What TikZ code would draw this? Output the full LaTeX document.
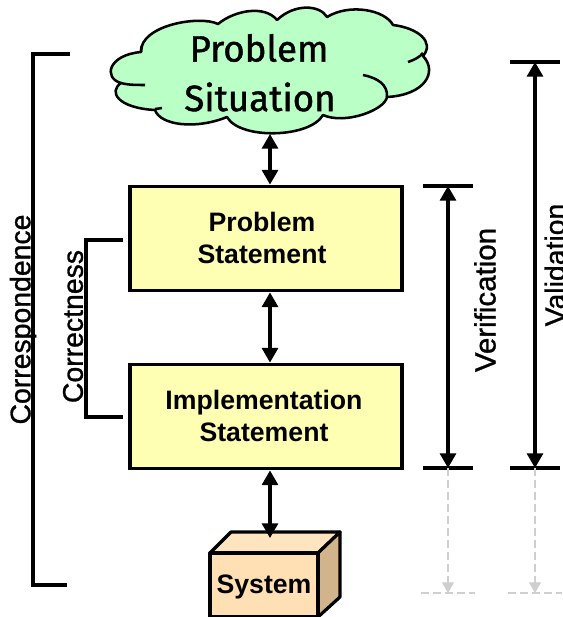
\documentclass[tikz,border=0pt]{standalone}
\usepackage{fontspec}
\setmainfont{Liberation Sans}
\newfontfamily\cloudfont[FakeBold=1.2]{Fira Sans}
\newfontfamily\sidefont[FakeBold=1]{Liberation Sans}
\usetikzlibrary{calc,positioning,arrows.meta}
\definecolor{cloudgreen}{HTML}{B9FFC6}
\definecolor{stmtyellow}{HTML}{FFFFB4}
\definecolor{boxfront}{HTML}{FFE0B4}
\definecolor{boxside}{HTML}{D2B48C}
\definecolor{ghost}{HTML}{CFCFCF}
\begin{document}
\begin{tikzpicture}[x=.75pt,y=-.75pt,
 stmt/.style={draw, line width=2.4pt, fill=stmtyellow, minimum width=204pt, minimum height=78.5pt, inner sep=0pt},
 stmttxt/.style={inner sep=0pt, align=center, font=\fontsize{20}{24}\selectfont\bfseries},
 lbl/.style={rotate=90, inner sep=0pt, font=\fontsize{21.3}{24}\sidefont},
 cloudlbl/.style={inner sep=0pt, font=\fontsize{27.5}{30}\cloudfont},
 ln/.style={line width=2.3pt},
 dbl/.style={line width=2.3pt, {Triangle[length=11pt,width=12pt]}-{Triangle[length=11pt,width=12pt]}},
 gho/.style={ghost, line width=.8pt, dashed, dash pattern=on 6pt off 3pt},
 boxln/.style={draw, line width=2.4pt, line join=round}]
\useasboundingbox (0,0) rectangle (562,617);
% cloud
\draw[line width=1.9pt, fill=cloudgreen, line join=round]
 (141,52) .. controls (140,25) and (200,15) .. (218,24)
 .. controls (235,10) and (265,5) .. (277,20)
 .. controls (295,3) and (320,5) .. (327,17)
 .. controls (350,3) and (385,10) .. (393,25)
 .. controls (418,28) and (435,42) .. (423,56)
 .. controls (438,72) and (425,95) .. (387,97)
 .. controls (385,110) and (345,125) .. (323,115)
 .. controls (310,138) and (240,140) .. (227,117)
 .. controls (195,130) and (160,125) .. (155,110)
 .. controls (118,108) and (108,92) .. (121,83)
 .. controls (103,78) and (108,55) .. (141,52) -- cycle;
\draw[line width=1.9pt] (423,53) .. controls (420,57) and (414,60) .. (408,62);
\draw[line width=1.9pt] (363,75) .. controls (378,78) and (388,85) .. (387,97);
\draw[line width=1.9pt] (155,109) .. controls (158,109) and (160,108) .. (162,108);
\draw[line width=1.9pt] (121,83) .. controls (128,85) and (137,85) .. (145,85);
\draw[line width=1.9pt] (141,52) .. controls (141,50) and (141,48) .. (142,46);
\node[cloudlbl] (problemtxt) at (259,48) {Problem};
\node[cloudlbl] (situation) at (260,97) {Situation};
\coordinate (cloudbot) at (270,134);
% statements
\node[stmt] (problem) at (266,238.5) {};
\node[stmt] (impl) at (266,416.5) {};
\node[stmttxt] (problemlbl) at (262,238) {Problem\\Statement};
\node[stmttxt] (impllbl) at (264,416) {Implementation\\Statement};
% system box
\coordinate (sysa) at (210,553); \coordinate (sysb) at (318,553);
\coordinate (sysc) at (340,532); \coordinate (sysd) at (231,532);
\coordinate (syse) at (340,597); \coordinate (sysf) at (318,617); \coordinate (sysg) at (210,617);
\coordinate (systop) at (270,538);
\draw[boxln, fill=boxfront!85!white] (sysa) -- (sysd) -- (sysc) -- (sysb) -- cycle;
\draw[boxln, fill=boxside] (sysb) -- (sysc) -- (syse) -- (sysf) -- cycle;
\draw[boxln, fill=boxfront] (sysa) -- (sysb) -- (sysf) -- (sysg) -- cycle;
\node[inner sep=0pt, font=\fontsize{20}{23}\selectfont\bfseries] (system) at (264,587) {System};
% links
\draw[dbl] (cloudbot) -- (cloudbot |- problem.north);
\draw[dbl] (cloudbot |- problem.south) -- (cloudbot |- impl.north);
\draw[dbl] (cloudbot |- impl.south) -- (systop);
% brackets
\coordinate (cora) at (70,54); \coordinate (corb) at (33,54); \coordinate (corc) at (33,585); \coordinate (cord) at (67,585);
\draw[ln] (cora) -- (corb) -- (corc) -- (cord);
\coordinate (cota) at (123,240); \coordinate (cotb) at (86,240); \coordinate (cotc) at (86,417); \coordinate (cotd) at (123,417);
\draw[ln] (cota) -- (cotb) -- (cotc) -- (cotd);
\node[lbl] (correspondence) at (23,319.5) {Correspondence};
\node[lbl] (correctness) at (73,326.5) {Correctness};
% measures
\foreach \x/\y/\n in {448/186/ver,535/62/val}{
 \coordinate (\n top) at (\x,\y); \coordinate (\n bot) at (\x,468); \coordinate (\n end) at (\x,593);
 \draw[ln] ($(\n top)+(-25,0)$) -- ($(\n top)+(25,0)$);
 \draw[ln] ($(\n bot)+(-25,0)$) -- ($(\n bot)+(25,0)$);
 \draw[dbl] (\n top) -- (\n bot);
 \draw[gho, -{Triangle[length=8pt,width=9pt]}] (\n bot) -- (\n end);
 \draw[gho] ($(\n end)+(-27,0)$) -- ($(\n end)+(27,0)$);
}
\node[lbl, font=\fontsize{22.1}{24}\sidefont] (verification) at (485,300) {Verification};
\node[lbl] (validation) at (555,265) {Validation};
\end{tikzpicture}
\end{document}
